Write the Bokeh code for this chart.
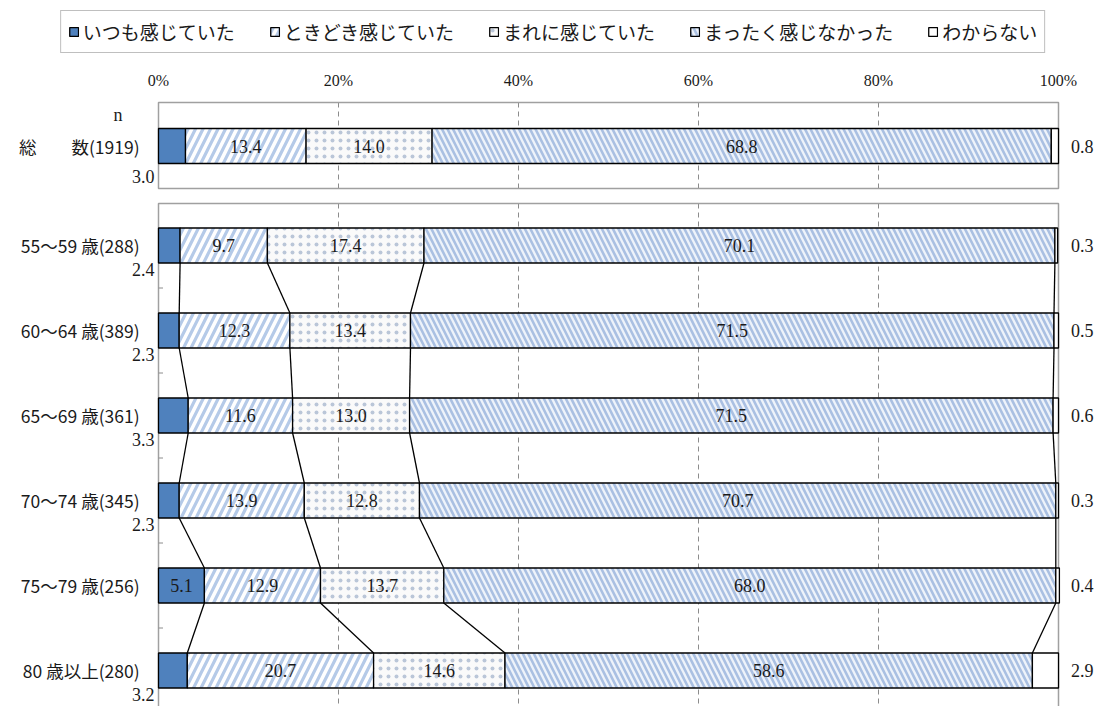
from bokeh.plotting import figure
from bokeh.models import Range1d, Legend, LegendItem, ColumnDataSource
from bokeh.core.properties import value
from bokeh.embed import file_html
from bokeh.resources import INLINE

# ---------------- data ----------------
series = ["いつも感じていた", "ときどき感じていた", "まれに感じていた", "まったく感じなかった", "わからない"]
total_label = "総　　数(1919)"
age_labels = ["55～59 歳(288)", "60～64 歳(389)", "65～69 歳(361)",
              "70～74 歳(345)", "75～79 歳(256)", "80 歳以上(280)"]
total_values = [3.0, 13.4, 14.0, 68.8, 0.8]
always = [2.4, 2.3, 3.3, 2.3, 5.1, 3.2]
sometimes = [9.7, 12.3, 11.6, 13.9, 12.9, 20.7]
rarely = [17.4, 13.4, 13.0, 12.8, 13.7, 14.6]
never = [70.1, 71.5, 71.5, 70.7, 68.0, 58.6]
unknown = [0.3, 0.5, 0.6, 0.3, 0.4, 2.9]
tick_values = [0, 20, 40, 60, 80, 100]
tick_labels = ["0%", "20%", "40%", "60%", "80%", "100%"]
n_label = "n"

# ---------------- layout ----------------
W, H = 1105, 706
X0, PX = 158, 9.0          # pixel of 0 %, pixels per %
BAR_H = 35
TOTAL_Y = 145.5
AGE_Y0, AGE_STEP = 245, 85

labels = [total_label] + age_labels
age_series = [always, sometimes, rarely, never, unknown]
vals = [[total_values[k]] + age_series[k] for k in range(5)]
ys = [TOTAL_Y] + [AGE_Y0 + AGE_STEP * i for i in range(len(age_labels))]
nrows = len(labels)

lefts, rights = [], []
for k in range(5):
    l, r = [], []
    for i in range(nrows):
        s = sum(vals[j][i] for j in range(k))
        l.append(s)
        r.append(s + vals[k][i])
    lefts.append(l)
    rights.append(r)

serif = value("Liberation Serif")
jp = value("Noto Sans CJK JP")
TXT = "#1a1a1a"

p = figure(width=W, height=H, output_backend="svg", toolbar_location=None,
           x_range=Range1d(-X0 / PX, (W - X0) / PX), y_range=Range1d(H, 0),
           x_axis_location=None, y_axis_location=None, min_border=0,
           outline_line_color=None, background_fill_color="white",
           border_fill_color="white")
p.xgrid.visible = False
p.ygrid.visible = False

# panels
panels = [(TOTAL_Y - 43.5, TOTAL_Y + 42.5),
          (ys[1] - 42, ys[-1] + 42.5)]
grid_x = [v for v in tick_values if 0 < v < 100]
for (pt, pb) in panels:
    p.segment(x0=grid_x, x1=grid_x, y0=[pt] * len(grid_x), y1=[pb] * len(grid_x),
              line_color="#8C8C8C", line_dash="5 4", line_width=1)
    p.quad(left=[0], right=[100], top=[pt], bottom=[pb], fill_color=None,
           line_color="#A0A0A0", line_width=1.5)

# minor ticks on the left axis of lower panel
tick_y = [ys[i] + AGE_STEP / 2 for i in range(1, nrows - 1)]
p.segment(x0=[0] * len(tick_y), x1=[0.5] * len(tick_y), y0=tick_y, y1=tick_y,
          line_color="#8C8C8C", line_width=1)

# connector lines between age rows
cx0, cx1, cy0, cy1 = [], [], [], []
for i in range(1, nrows - 1):
    for k in range(4):
        cx0.append(rights[k][i]); cx1.append(rights[k][i + 1])
        cy0.append(ys[i] + BAR_H / 2); cy1.append(ys[i + 1] - BAR_H / 2)
p.segment(x0=cx0, x1=cx1, y0=cy0, y1=cy1, line_color="black", line_width=1.3)

styles = [
    dict(fill_color="#4F81BD"),
    dict(fill_color="#FFFFFF", hatch_pattern="/", hatch_color="#B5CAE8",
         hatch_scale=15, hatch_weight=3.2),
    dict(fill_color="#FAFAFA", hatch_pattern="dot", hatch_color="#BAC6D8",
         hatch_scale=8, hatch_weight=1.0),
    dict(fill_color="#EEF3FA", hatch_pattern="\\", hatch_color="#AAC0E2",
         hatch_scale=11, hatch_weight=2.6),
    dict(fill_color="#FFFFFF"),
]

renderers = []
for k in range(5):
    src = ColumnDataSource(dict(y=ys, left=lefts[k], right=rights[k]))
    r = p.hbar(y="y", left="left", right="right", height=BAR_H, source=src,
               line_color="black", line_width=1.3, **styles[k])
    renderers.append(r)

# in-bar value labels
tx, ty, tt = [], [], []
for k in (1, 2, 3):
    for i in range(nrows):
        tx.append((lefts[k][i] + rights[k][i]) / 2); ty.append(ys[i])
        tt.append(f"{vals[k][i]:.1f}")
for i in range(nrows):
    if vals[0][i] >= 5:
        tx.append((lefts[0][i] + rights[0][i]) / 2); ty.append(ys[i])
        tt.append(f"{vals[0][i]:.1f}")
p.text(x=tx, y=ty, text=tt, text_align="center", text_baseline="middle",
       text_font=serif, text_font_size="18px", text_color=TXT)

# small "always" values below-left
bx, by, bt = [], [], []
for i in range(nrows):
    if vals[0][i] < 5:
        bx.append(-0.45)
        by.append(ys[i] + (30 if i == 0 else 23.5))
        bt.append(f"{vals[0][i]:.1f}")
p.text(x=bx, y=by, text=bt, text_align="right", text_baseline="middle",
       text_font=serif, text_font_size="18px", text_color=TXT)

# unknown values on the right
p.text(x=[101.4] * nrows, y=ys, text=[f"{v:.1f}" for v in vals[4]],
       text_align="left", text_baseline="middle",
       text_font=serif, text_font_size="18px", text_color=TXT)

# row labels
p.text(x=[-2.1] * nrows, y=ys, text=labels, text_align="right",
       text_baseline="middle", text_font=jp, text_font_size="17.5px",
       text_color=TXT)
p.text(x=[-4.5], y=[TOTAL_Y - 31], text=[n_label], text_align="center",
       text_baseline="middle", text_font=serif, text_font_size="18px",
       text_color=TXT)

# top axis tick labels
p.text(x=tick_values, y=[80] * len(tick_values), text=tick_labels,
       text_align="center", text_baseline="middle", text_font=serif,
       text_font_size="16px", text_color=TXT)

legend = Legend(items=[LegendItem(label=series[k], renderers=[renderers[k]]) for k in range(5)],
                orientation="horizontal", location="top_center", margin=10,
                padding=7, spacing=34, glyph_width=11, glyph_height=11,
                label_standoff=4, label_height=19,
                label_text_font="Noto Sans CJK JP", label_text_font_size="19px",
                label_text_color=TXT,
                border_line_color="#808080", border_line_width=1.5,
                background_fill_color="white", background_fill_alpha=1)
p.add_layout(legend, "center")

open("out.html", "w").write(file_html(p, INLINE))
